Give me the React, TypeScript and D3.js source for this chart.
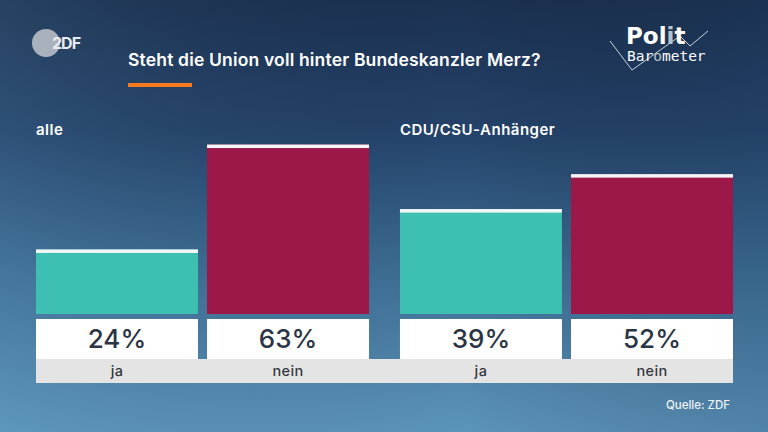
import React from "react";
import * as d3 from "d3";

// data
const groups = ["alle", "CDU/CSU-Anhänger"];
const categories = ["ja", "nein"];
const alleValues = [24, 63];
const anhaengerValues = [39, 52];
const valueLabels = [
  ["24%", "63%"],
  ["39%", "52%"],
];
const barColors = ["#3dbfb1", "#9c1848"];

const W = 768;
const H = 432;
const baseY = 314;

const App = () => {
  const x0 = d3.scaleBand().domain(groups).range([36, 733]).paddingInner(0.085);
  const x1 = d3
    .scaleBand()
    .domain(categories)
    .range([0, x0.bandwidth()])
    .paddingInner(0.053);
  const y = d3.scaleLinear().domain([0, 100]).range([baseY, baseY - 269]);
  const color = d3.scaleOrdinal<string, string>().domain(categories).range(barColors);
  const series = [alleValues, anhaengerValues];
  const font = "Inter, 'Liberation Sans', sans-serif";

  return (
    <svg
      width={W}
      height={H}
      style={{ position: "absolute", left: 0, top: 0, display: "block" }}
      fontFamily={font}
    >
      <defs>
        <linearGradient id="bg" x1="0" y1="0" x2="0" y2="1">
          <stop offset="0" stopColor="#1b3150" />
          <stop offset="0.3" stopColor="#24426a" />
          <stop offset="0.65" stopColor="#3f7096" />
          <stop offset="1" stopColor="#5d94ba" />
        </linearGradient>
        <linearGradient id="side" x1="0" y1="0" x2="1" y2="0">
          <stop offset="0" stopColor="#6aa2c6" stopOpacity="0.15" />
          <stop offset="0.6" stopColor="#000" stopOpacity="0" />
          <stop offset="1" stopColor="#1b3a5c" stopOpacity="0.18" />
        </linearGradient>
      </defs>
      <rect width={W} height={H} fill="url(#bg)" />
      <rect width={W} height={H} fill="url(#side)" />

      {/* ZDF logo */}
      <circle cx={46} cy={43} r={14} fill="#a9b1bc" />
      <text x={52} y={49} fontSize={16} fontWeight={700} fill="#e8ecf0" letterSpacing={-1}>
        2DF
      </text>

      {/* Politbarometer logo */}
      <polyline
        points="610,41 632,70 680,36 690,46 708,31"
        fill="none"
        stroke="#c9d3de"
        strokeWidth={1}
      />
      <text x={626} y={44} fontSize={23} fontWeight={700} fill="#ffffff" fontFamily="'DejaVu Sans', sans-serif">
        Pol<tspan fill="#b9c2cc">i</tspan>t
      </text>
      <text x={627} y={61} fontSize={14.5} fill="#ffffff" fontFamily="'DejaVu Sans Mono', monospace">
        Bar<tspan fill="#b9c2cc">o</tspan>meter
      </text>

      {/* title */}
      <text x={128} y={66} fontSize={17.5} fontWeight={600} fill="#ffffff" letterSpacing={0.17}>
        Steht die Union voll hinter Bundeskanzler Merz?
      </text>
      <rect x={128} y={83} width={64} height={4} fill="#f47b20" />

      {/* category strip */}
      <rect x={x0.range()[0]} y={359} width={x0.range()[1] - x0.range()[0]} height={24} fill="#e5e4e4" />

      {groups.map((g, gi) => {
        const gx = x0(g)!;
        return (
          <g key={g} transform={`translate(${gx},0)`}>
            <text x={0} y={135} fontSize={15} fontWeight={600} fill="#ffffff" letterSpacing={0.5}>
              {g}
            </text>
            {categories.map((c, ci) => {
              const v = series[gi][ci];
              const bx = x1(c)!;
              const bw = x1.bandwidth();
              return (
                <g key={c}>
                  <rect x={bx} y={y(v)} width={bw} height={baseY - y(v)} fill={color(c)} />
                  <rect x={bx} y={y(v)} width={bw} height={3.5} fill="#f4f6f7" />
                  <rect x={bx} y={319} width={bw} height={40} fill="#ffffff" />
                  <text
                    x={bx + bw / 2}
                    y={348}
                    textAnchor="middle"
                    fontSize={26}
                    fontWeight={500}
                    fill="#2a3444"
                  >
                    {valueLabels[gi][ci]}
                  </text>
                  <text
                    x={bx + bw / 2}
                    y={376}
                    textAnchor="middle"
                    fontSize={14.5}
                    fontWeight={500}
                    fill="#333840"
                    letterSpacing={0.4}
                  >
                    {c}
                  </text>
                </g>
              );
            })}
          </g>
        );
      })}

      <text x={730} y={409} textAnchor="end" fontSize={11.5} fontWeight={500} fill="#eef3f7">
        Quelle: ZDF
      </text>
    </svg>
  );
};

export default App;
